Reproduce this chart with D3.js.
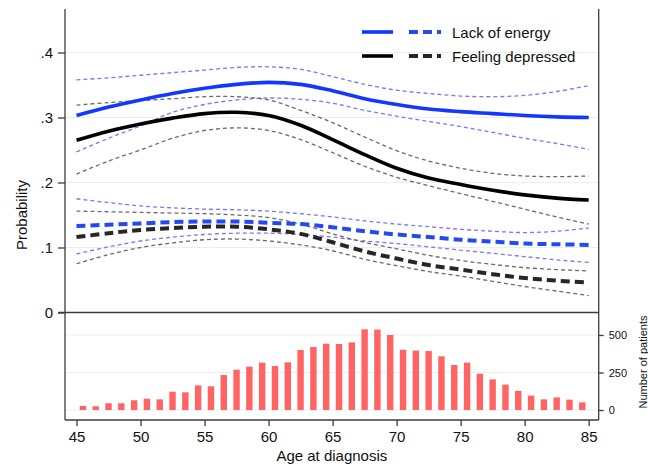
<!DOCTYPE html>
<html>
<head>
<meta charset="utf-8">
<script src="https://cdn.jsdelivr.net/npm/d3@7"></script>
<style>
  body { margin: 0; background: #fff; }
  svg { display: block; font-family: "Liberation Sans", Arial, sans-serif; }
</style>
</head>
<body>
<div class="dataviz"><svg></svg></div>
<script>
// age points for the fitted curves
const ages = [45, 47.5, 50, 52.5, 55, 57.5, 60, 62.5, 65, 67.5, 70, 72.5, 75, 77.5, 80, 82.5, 85]

// lack of energy (upper group)
const energyFit = [0.303, 0.316, 0.327, 0.337, 0.345, 0.351, 0.354, 0.351, 0.341, 0.329, 0.320, 0.313, 0.309, 0.306, 0.303, 0.301, 0.300]
const energyHi  = [0.358, 0.361, 0.365, 0.369, 0.373, 0.377, 0.378, 0.374, 0.363, 0.351, 0.342, 0.337, 0.333, 0.332, 0.334, 0.340, 0.349]
const energyLo  = [0.247, 0.268, 0.287, 0.308, 0.320, 0.327, 0.330, 0.328, 0.322, 0.311, 0.302, 0.294, 0.286, 0.277, 0.268, 0.260, 0.251]
// feeling depressed (upper group)
const deprFit = [0.265, 0.279, 0.290, 0.299, 0.306, 0.308, 0.303, 0.288, 0.266, 0.243, 0.222, 0.207, 0.197, 0.188, 0.181, 0.176, 0.173]
const deprHi  = [0.319, 0.323, 0.326, 0.329, 0.332, 0.332, 0.327, 0.311, 0.292, 0.270, 0.249, 0.233, 0.222, 0.214, 0.210, 0.209, 0.210]
const deprLo  = [0.213, 0.233, 0.250, 0.268, 0.280, 0.284, 0.280, 0.266, 0.246, 0.225, 0.208, 0.195, 0.183, 0.171, 0.159, 0.147, 0.136]
// lack of energy (dashed group)
const energy2Fit = [0.133, 0.135, 0.137, 0.139, 0.140, 0.140, 0.138, 0.136, 0.131, 0.125, 0.120, 0.116, 0.112, 0.109, 0.106, 0.105, 0.104]
const energy2Hi  = [0.175, 0.169, 0.164, 0.161, 0.159, 0.158, 0.156, 0.152, 0.147, 0.141, 0.136, 0.132, 0.128, 0.125, 0.123, 0.125, 0.130]
const energy2Lo  = [0.090, 0.101, 0.110, 0.116, 0.120, 0.122, 0.122, 0.120, 0.116, 0.110, 0.106, 0.101, 0.096, 0.091, 0.086, 0.081, 0.077]
// feeling depressed (dashed group)
const depr2Fit = [0.116, 0.122, 0.127, 0.130, 0.132, 0.132, 0.128, 0.121, 0.108, 0.094, 0.083, 0.073, 0.066, 0.059, 0.053, 0.049, 0.046]
const depr2Hi  = [0.156, 0.155, 0.154, 0.153, 0.152, 0.150, 0.146, 0.136, 0.121, 0.108, 0.098, 0.088, 0.080, 0.074, 0.069, 0.066, 0.064]
const depr2Lo  = [0.075, 0.089, 0.100, 0.107, 0.112, 0.113, 0.110, 0.104, 0.095, 0.082, 0.072, 0.063, 0.056, 0.048, 0.040, 0.033, 0.026]

// histogram of age at diagnosis
const binAges = [45, 46, 47, 48, 49, 50, 51, 52, 53, 54, 55, 56, 57, 58, 59, 60, 61, 62, 63, 64,
                 65, 66, 67, 68, 69, 70, 71, 72, 73, 74, 75, 76, 77, 78, 79, 80, 81, 82, 83, 84]
const binCounts = [27, 25, 45, 45, 65, 75, 71, 122, 118, 164, 158, 233, 269, 289, 316, 293, 318, 400, 420, 442,
                   440, 451, 538, 536, 500, 402, 396, 393, 358, 300, 316, 242, 204, 169, 127, 96, 71, 84, 69, 51]

const xTicks = [45, 50, 55, 60, 65, 70, 75, 80, 85]
const yTicks = [0, 0.1, 0.2, 0.3, 0.4]
const yTickLabels = ["0", ".1", ".2", ".3", ".4"]
const countTicks = [0, 250, 500]

const legendItems = ["Lack of energy", "Feeling depressed"]

width = 648,
    height = 467
var margin = { top: 9, right: 49.3, bottom: 47, left: 65 }
var splitY = 312.5

var blue = "#1437ff", black = "#000",
    blueCI = "#7b77ee", grayCI = "#6a6a6a",
    blue2 = "#2448f2", black2 = "#262626",
    frame = "#3c3c3c", grid = "#e8eff1"

x = d3.scaleLinear()
    .domain([45, 85])
    .range([76.5, 588.7])
y = d3.scaleLinear()
    .domain([0, 0.4])
    .range([splitY, 52.5])
yc = d3.scaleLinear()
    .domain([0, 500])
    .range([410, 335])

var right = width - margin.right,
    bottom = height - margin.bottom

svg = d3.select(".dataviz > svg")
    .attr("width", width)
    .attr("height", height)
    .attr("viewBox", [0, 0, width, height])

// gridlines
svg.append("g").selectAll("line")
    .data(yTicks.filter(d => d > 0))
    .join("line")
    .attr("x1", margin.left).attr("x2", right)
    .attr("y1", d => y(d)).attr("y2", d => y(d))
    .attr("stroke", grid).attr("stroke-width", 1.2)
svg.append("g").selectAll("line")
    .data(countTicks)
    .join("line")
    .attr("x1", margin.left).attr("x2", right)
    .attr("y1", d => yc(d)).attr("y2", d => yc(d))
    .attr("stroke", grid).attr("stroke-width", 1.2)

// histogram bars
svg.append("g")
    .attr("fill", "#ff6464")
    .selectAll("rect")
    .data(binAges.map((a, i) => ({ age: a, n: binCounts[i] })))
    .join("rect")
    .attr("x", d => x(d.age + 0.25))
    .attr("width", d => x(d.age + 0.75) - x(d.age + 0.25))
    .attr("y", d => yc(d.n))
    .attr("height", d => yc(0) - yc(d.n))

// curves
var line = d3.line()
    .x((d, i) => x(ages[i]))
    .y(d => y(d))
    .curve(d3.curveCatmullRom.alpha(0.5))

var series = [
    { v: energyHi, c: blueCI, w: 1.3, dash: "4,3" },
    { v: energyLo, c: blueCI, w: 1.3, dash: "4,3" },
    { v: deprHi, c: grayCI, w: 1.3, dash: "4,3" },
    { v: deprLo, c: grayCI, w: 1.3, dash: "4,3" },
    { v: energy2Hi, c: blueCI, w: 1.3, dash: "4,3" },
    { v: energy2Lo, c: blueCI, w: 1.3, dash: "4,3" },
    { v: depr2Hi, c: grayCI, w: 1.3, dash: "4,3" },
    { v: depr2Lo, c: grayCI, w: 1.3, dash: "4,3" },
    { v: depr2Fit, c: black2, w: 4, dash: "9,5" },
    { v: energy2Fit, c: blue2, w: 4, dash: "9,5" },
    { v: deprFit, c: black, w: 3.6, dash: null },
    { v: energyFit, c: blue, w: 3.6, dash: null }
]
svg.append("g").selectAll("path")
    .data(series)
    .join("path")
    .attr("d", d => line(d.v))
    .attr("fill", "none")
    .attr("stroke", d => d.c)
    .attr("stroke-width", d => d.w)
    .attr("stroke-dasharray", d => d.dash)

// frame lines
var fr = svg.append("g").attr("stroke", frame).attr("stroke-width", 1.3)
fr.append("line").attr("x1", margin.left).attr("x2", margin.left).attr("y1", margin.top).attr("y2", bottom)
fr.append("line").attr("x1", right).attr("x2", right).attr("y1", margin.top).attr("y2", bottom)
fr.append("line").attr("x1", margin.left - 7).attr("x2", right).attr("y1", splitY).attr("y2", splitY)
fr.append("line").attr("x1", margin.left).attr("x2", right).attr("y1", bottom).attr("y2", bottom)

// left axis
yAxis = g => g
    .attr("transform", `translate(${margin.left},0)`)
    .call(d3.axisLeft(y).tickValues(yTicks).tickFormat((d, i) => yTickLabels[i]).tickSize(7).tickPadding(5))
svg.append("g").attr("class", "yaxis").call(yAxis)

// bottom axis
xAxis = g => g
    .attr("transform", `translate(0,${bottom})`)
    .call(d3.axisBottom(x).tickValues(xTicks).tickFormat(d3.format("d")).tickSize(6).tickPadding(5))
svg.append("g").attr("class", "xaxis").call(xAxis)

// right count axis
cAxis = g => g
    .attr("transform", `translate(${right},0)`)
    .call(d3.axisRight(yc).tickValues(countTicks).tickSize(5).tickPadding(5))
svg.append("g").attr("class", "caxis").call(cAxis)

svg.selectAll(".yaxis, .xaxis, .caxis").selectAll(".domain").remove()
svg.selectAll(".yaxis line, .xaxis line, .caxis line").attr("stroke", frame).attr("stroke-width", 1.3)
svg.selectAll(".yaxis text, .xaxis text")
    .attr("font-size", 15).attr("fill", "#111")
    .attr("font-family", "Liberation Sans, Arial, sans-serif")
svg.selectAll(".caxis text")
    .attr("font-size", 11).attr("fill", "#111")
    .attr("font-family", "Liberation Sans, Arial, sans-serif")

// axis titles
svg.append("text")
    .attr("transform", `translate(27,215) rotate(-90)`)
    .attr("text-anchor", "middle")
    .attr("font-size", 15).attr("fill", "#111")
    .text("Probability")
svg.append("text")
    .attr("x", (margin.left + right) / 2).attr("y", 461)
    .attr("text-anchor", "middle")
    .attr("font-size", 15).attr("fill", "#111")
    .text("Age at diagnosis")
svg.append("text")
    .attr("transform", `translate(647,362) rotate(-90)`)
    .attr("text-anchor", "middle")
    .attr("font-size", 11).attr("fill", "#111")
    .text("Number of patients")

// legend
var legend = svg.append("g").selectAll("g")
    .data(legendItems)
    .join("g")
    .attr("transform", (d, i) => `translate(0,${32 + i * 24})`)
legend.append("line")
    .attr("x1", 362).attr("x2", 393).attr("y1", 0).attr("y2", 0)
    .attr("stroke", (d, i) => i == 0 ? blue : black).attr("stroke-width", 3.6)
legend.append("line")
    .attr("x1", 409).attr("x2", 441).attr("y1", 0).attr("y2", 0)
    .attr("stroke", (d, i) => i == 0 ? blue2 : black2).attr("stroke-width", 4)
    .attr("stroke-dasharray", "9,5")
legend.append("text")
    .attr("x", 452).attr("y", 5.5)
    .attr("font-size", 15).attr("fill", "#111")
    .text(d => d)
</script>
</body>
</html>
